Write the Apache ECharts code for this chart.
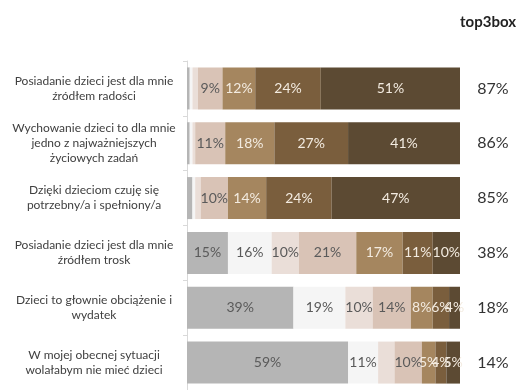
<!DOCTYPE html>
<html>
<head>
<meta charset="utf-8">
<script src="https://cdn.jsdelivr.net/npm/echarts@6/dist/echarts.min.js"></script>
<style>
  html, body { margin: 0; padding: 0; background: #fff; }
  #chart { width: 527px; height: 390px; }
</style>
</head>
<body>
<div id="chart"></div>
<script>
// pytania (od góry)
var categories = [
  'Posiadanie dzieci jest dla mnie\nźródłem radości',
  'Wychowanie dzieci to dla mnie\njedno z najważniejszych\nżyciowych zadań',
  'Dzięki dzieciom czuję się\npotrzebny/a i spełniony/a',
  'Posiadanie dzieci jest dla mnie\nźródłem trosk',
  'Dzieci to głownie obciążenie i\nwydatek',
  'W mojej obecnej sytuacji\nwolałabym nie mieć dzieci'
];

// skala 1-7, wartości w %
var s1 = [1, 1, 2, 15, 39, 59];
var s2 = [1, 1, 1, 16, 19, 11];
var s3 = [2, 1, 2, 10, 10, 6];
var s4 = [9, 11, 10, 21, 14, 10];
var s5 = [12, 18, 14, 17, 8, 5];
var s6 = [24, 27, 24, 11, 6, 4];
var s7 = [51, 41, 47, 10, 4, 5];

var colors = ['#b5b5b5', '#f5f5f5', '#eaded8', '#d9c3b6', '#a5865f', '#7a5e3d', '#5c4a33'];
var labelColors = ['#5a5a5a', '#5a5a5a', '#5a5a5a', '#5a5a5a', '#f3ebe0', '#f3ebe0', '#f3ebe0'];
// etykiety niewidoczne w oryginale: [wiersz, seria]
var hiddenLabels = [[5, 2]];

var allSeries = [s1, s2, s3, s4, s5, s6, s7];
var top3 = categories.map(function (c, i) { return s5[i] + s6[i] + s7[i]; });

let myChart = echarts.init(document.getElementById('chart'));

let series = allSeries.map(function (arr, k) {
  return {
    name: 'p' + (k + 1),
    type: 'bar',
    stack: 'total',
    barWidth: 42,
    itemStyle: { color: colors[k] },
    label: {
      show: true,
      position: 'inside',
      color: labelColors[k],
      fontFamily: 'Lato',
      fontSize: 14,
      formatter: function (p) {
        var hide = p.value < 4 || hiddenLabels.some(function (h) { return h[0] === p.dataIndex && h[1] === k; });
        return hide ? '' : p.value + '%';
      }
    },
    data: arr
  };
});

let option = {
  animation: false,
  title: {
    text: 'top3box',
    right: 6,
    top: 10,
    textStyle: { fontFamily: 'Lato', fontSize: 15, fontWeight: 'bold', color: '#222' }
  },
  grid: { left: 187, right: 67, top: 61, bottom: -11 },
  xAxis: { type: 'value', min: 0, max: 100, show: false },
  yAxis: [
    {
      type: 'category',
      inverse: true,
      data: categories,
      axisLine: { show: true, lineStyle: { color: '#d9d9d9' } },
      axisTick: { show: true, length: 4, lineStyle: { color: '#d9d9d9' } },
      axisLabel: {
        align: 'center',
        margin: 93,
        fontFamily: 'Lato',
        fontSize: 12,
        lineHeight: 15,
        color: '#404040'
      }
    },
    {
      type: 'category',
      inverse: true,
      position: 'right',
      data: top3.map(function (v) { return v + '%'; }),
      axisLine: { show: false },
      axisTick: { show: false },
      axisLabel: {
        align: 'center',
        margin: 33,
        fontFamily: 'Lato',
        fontSize: 16,
        color: '#333'
      }
    }
  ],
  series: series
};
myChart.setOption(option);
</script>
</body>
</html>
